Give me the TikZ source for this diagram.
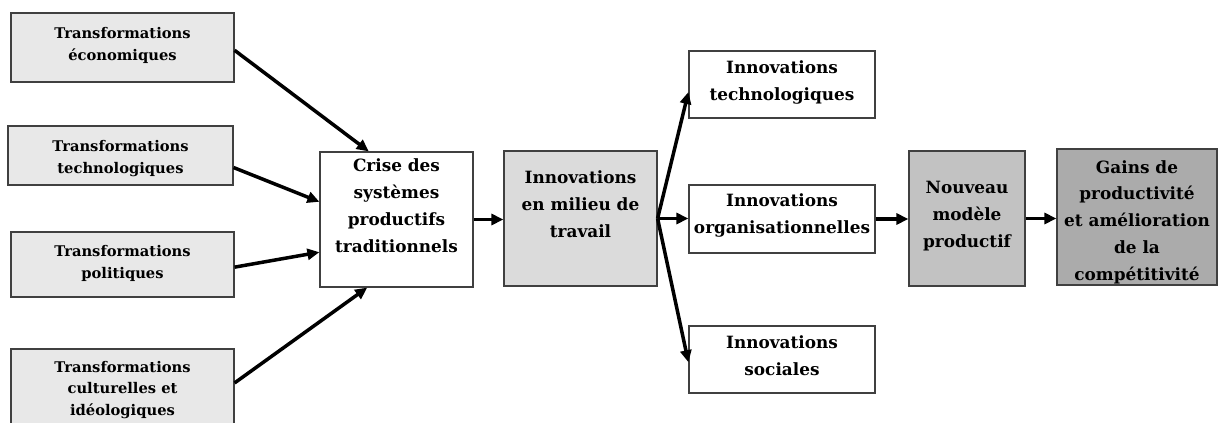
\documentclass[tikz,border=0pt]{standalone}
\usepackage{fontspec}
\setmainfont{DejaVu Serif}
\usetikzlibrary{arrows.meta,calc}

\definecolor{fillA}{gray}{0.91}
\definecolor{fillB}{gray}{0.86}
\definecolor{fillC}{gray}{0.76}
\definecolor{fillD}{gray}{0.67}
\definecolor{edge}{gray}{0.25}

\tikzset{
  box/.style={draw=edge, line width=1.2pt, rectangle, inner sep=0pt},
  srcbox/.style={box, fill=fillA},
  % text blocks are placed by the baseline of their last line
  smalltxt/.style={anchor=base, align=center, inner sep=0pt,
    font=\bfseries\fontsize{14.7}{21.5}\selectfont},
  bigtxt/.style={anchor=base, align=center, inner sep=0pt,
    font=\bfseries\fontsize{16.9}{26.7}\selectfont},
  flow/.style={line width=3.5pt, -{Triangle[length=12pt,width=11pt]}},
}

\begin{document}
\begin{tikzpicture}[x=1pt,y=-1pt]
\useasboundingbox (0,0) rectangle (1221,423);

% source transformations
\node[srcbox, minimum width=223pt, minimum height=69pt] (b1) at (122.5,47.5) {};
\node[srcbox, minimum width=225pt, minimum height=59pt] (b2) at (120.5,155.5) {};
\node[srcbox, minimum width=223pt, minimum height=65pt] (b3) at (122.5,264.5) {};
\node[srcbox, minimum width=223pt, minimum height=83pt] (b4) at (122.5,390.5) {};
\node[smalltxt] (t1) at (122.5,60) {Transformations\\économiques};
\node[smalltxt] (t2) at (120.5,173) {Transformations\\technologiques};
\node[smalltxt] (t3) at (122.5,278) {Transformations\\politiques};
\node[smalltxt] (t4) at (122.5,415) {Transformations\\culturelles et\\idéologiques};

% central chain
\node[box, fill=white, minimum width=153pt, minimum height=135pt] (crise) at (396.5,219.5) {};
\node[bigtxt] (tcrise) at (396.5,252) {Crise des\\systèmes\\productifs\\traditionnels};
\node[box, fill=fillB, minimum width=153pt, minimum height=135pt] (inno) at (580.5,218.5) {};
\node[bigtxt] (tinno) at (580.5,237) {Innovations\\en milieu de\\travail};

% three kinds of innovation
\node[box, fill=white, minimum width=186pt, minimum height=67pt] (tech) at (782,84.5) {};
\node[bigtxt] (ttech) at (782,100) {Innovations\\technologiques};
\node[box, fill=white, minimum width=186pt, minimum height=68pt] (org) at (782,219) {};
\node[bigtxt] (torg) at (782,233) {Innovations\\organisationnelles};
\node[box, fill=white, minimum width=186pt, minimum height=67pt] (soc) at (782,359.5) {};
\node[bigtxt] (tsoc) at (782,375) {Innovations\\sociales};

% outcomes
\node[box, fill=fillC, minimum width=116pt, minimum height=135pt] (nouv) at (967,218.5) {};
\node[bigtxt] (tnouv) at (967,247) {Nouveau\\modèle\\productif};
\node[box, fill=fillD, minimum width=160pt, minimum height=136pt] (gains) at (1137,217) {};
\node[bigtxt] (tgains) at (1137,280) {Gains de\\productivité\\et amélioration\\de la\\compétitivité};

% connectors
\draw[flow] ($(b1.north east)!0.54!(b1.south east)$) -- ($(crise.north west)!0.32!(crise.north east)$);
\draw[flow] ($(b2.north east)!0.7!(b2.south east)$) -- ($(crise.north west)!0.37!(crise.south west)$);
\draw[flow] ($(b3.north east)!0.54!(b3.south east)$) -- ($(crise.north west)!0.74!(crise.south west)$);
\draw[flow] ($(b4.north east)!0.41!(b4.south east)$) -- ($(crise.south west)!0.31!(crise.south east)$);
\draw[flow] (crise.east) -- (crise.east -| inno.west);
\draw[flow] (inno.east) -- ($(tech.north west)!0.61!(tech.south west)$);
\draw[flow] (inno.east) -- (inno.east -| org.west);
\draw[flow] (inno.east) -- ($(soc.north west)!0.54!(soc.south west)$);
\draw[flow] (org.east) -- (org.east -| nouv.west);
\draw[flow] (nouv.east) -- (nouv.east -| gains.west);
\end{tikzpicture}
\end{document}
